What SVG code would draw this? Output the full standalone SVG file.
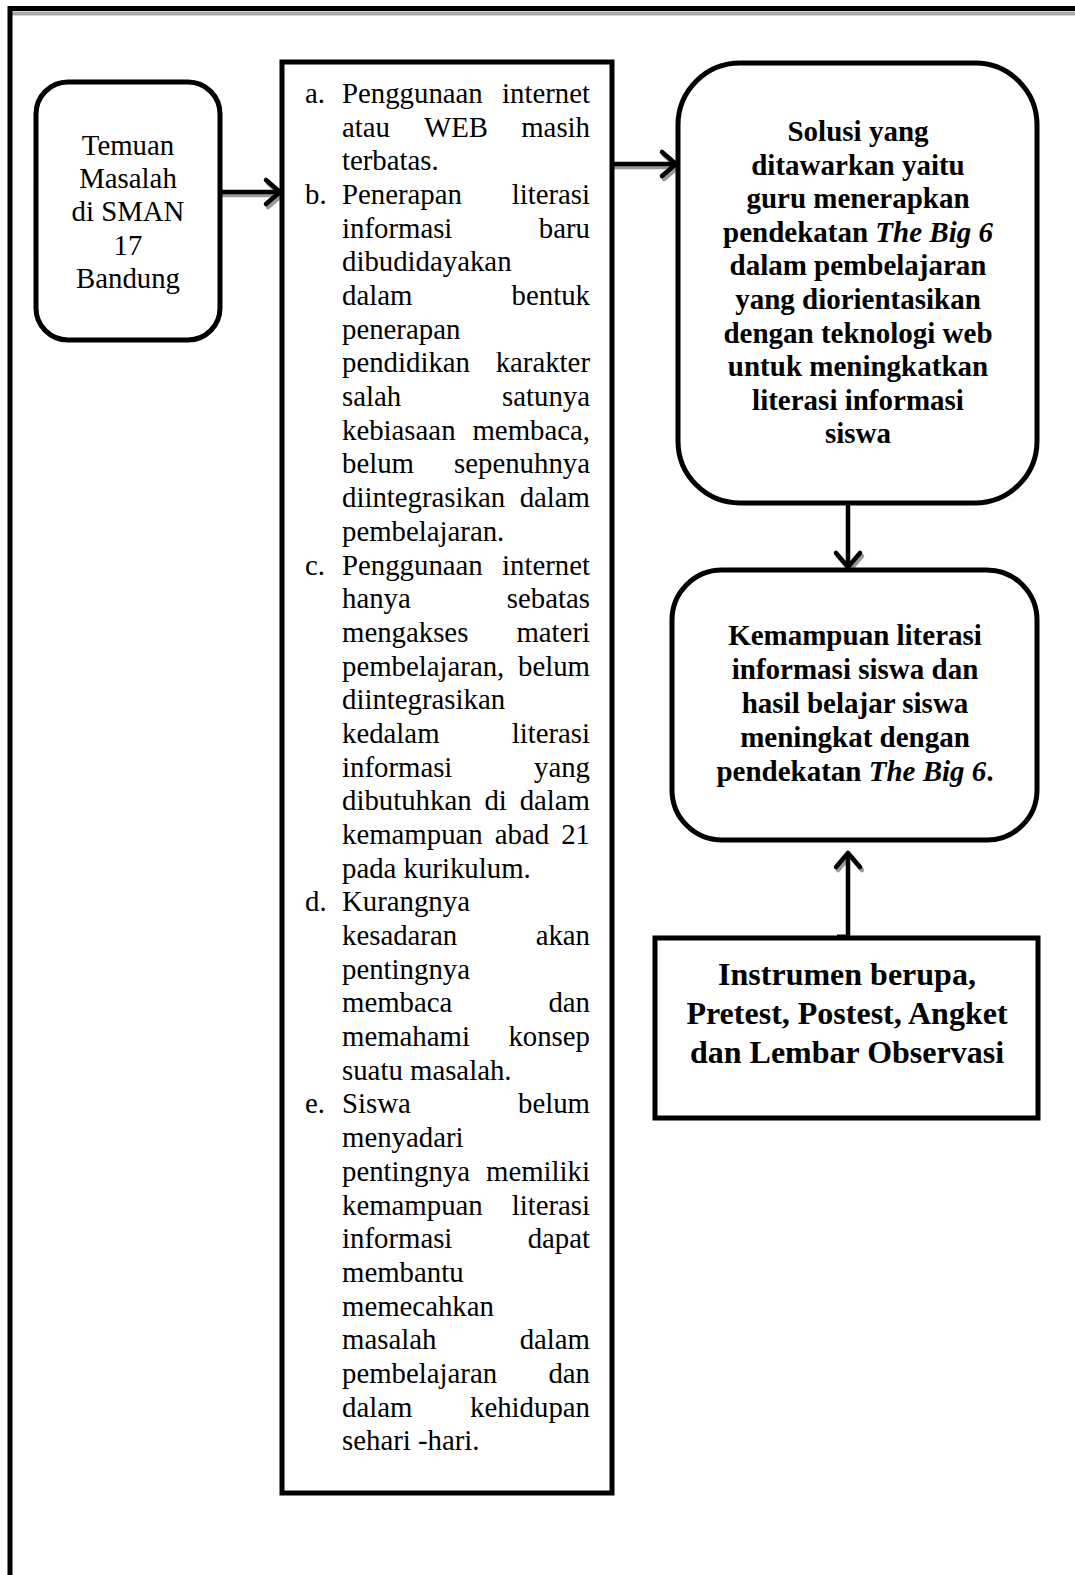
<svg xmlns="http://www.w3.org/2000/svg" width="1075" height="1575" viewBox="0 0 1075 1575">
<style>
.box{fill:#fff;stroke:#000;stroke-width:5}
.t{font-family:"Liberation Serif","Times New Roman",serif;font-size:28.8px;fill:#000}
.c{text-anchor:middle}
.e{text-anchor:end}
.b{font-weight:bold;font-size:29px}
.b3{font-weight:bold;font-size:32px}
.i{font-style:italic}
.ln{stroke:#000;stroke-width:4.5;fill:none;stroke-linecap:round;stroke-linejoin:round}
.sh{stroke:#999;stroke-width:4.5;fill:none;stroke-linecap:round;stroke-linejoin:round}
</style>
<rect width="1075" height="1575" fill="#fff"/>
<g id="frame">
<line x1="12" y1="13.5" x2="1075" y2="13.5" stroke="#aaa" stroke-width="4"/>
<line x1="8" y1="8.5" x2="1075" y2="8.5" stroke="#000" stroke-width="5"/>
<line x1="10" y1="6" x2="10" y2="1575" stroke="#000" stroke-width="5"/>
</g>
<g id="connectors">
<g transform="translate(2,3)">
<line class="sh" x1="221" y1="192" x2="279" y2="192"/><polyline class="sh" points="266,180 280,192 266,204"/>
<line class="sh" x1="613" y1="164" x2="675" y2="164"/><polyline class="sh" points="662,152 676,164 662,176"/>
<polyline class="sh" points="836,553 848,567 860,553"/>
<polyline class="sh" points="836,867 848,853 860,867"/>
</g>
<line class="ln" x1="221" y1="192" x2="279" y2="192"/><polyline class="ln" points="266,180 280,192 266,204"/>
<line class="ln" x1="613" y1="164" x2="675" y2="164"/><polyline class="ln" points="662,152 676,164 662,176"/>
<line class="ln" x1="848" y1="504" x2="848" y2="566"/><polyline class="ln" points="836,553 848,567 860,553"/>
<line class="ln" x1="848" y1="937" x2="848" y2="855"/><polyline class="ln" points="836,867 848,853 860,867"/>
<line x1="837" y1="937" x2="849" y2="937" stroke="#000" stroke-width="5"/>
</g>
<g id="temuan">
<rect class="box" x="36" y="82" width="184" height="258" rx="32"/>
<text class="t c" x="128" y="155">Temuan</text>
<text class="t c" x="128" y="188">Masalah</text>
<text class="t c" x="128" y="221">di SMAN</text>
<text class="t c" x="128" y="255">17</text>
<text class="t c" x="128" y="288">Bandung</text>
</g>
<g id="masalah">
<rect class="box" x="282" y="62" width="330" height="1431"/>
<g class="t">
<text x="305" y="103">a.</text><text x="342" y="103">Penggunaan</text><text class="e" x="590" y="103">internet</text>
<text x="342" y="136.7">atau</text><text x="424" y="136.7">WEB</text><text class="e" x="590" y="136.7">masih</text>
<text x="342" y="170.4">terbatas.</text>
<text x="305" y="204">b.</text><text x="342" y="204">Penerapan</text><text class="e" x="590" y="204">literasi</text>
<text x="342" y="237.7">informasi</text><text class="e" x="590" y="237.7">baru</text>
<text x="342" y="271.4">dibudidayakan</text>
<text x="342" y="305">dalam</text><text class="e" x="590" y="305">bentuk</text>
<text x="342" y="338.7">penerapan</text>
<text x="342" y="372.4">pendidikan</text><text class="e" x="590" y="372.4">karakter</text>
<text x="342" y="406.1">salah</text><text class="e" x="590" y="406.1">satunya</text>
<text x="342" y="439.8">kebiasaan</text><text class="e" x="590" y="439.8">membaca,</text>
<text x="342" y="473.4">belum</text><text class="e" x="590" y="473.4">sepenuhnya</text>
<text x="342" y="507.1">diintegrasikan</text><text class="e" x="590" y="507.1">dalam</text>
<text x="342" y="540.8">pembelajaran.</text>
<text x="305" y="574.5">c.</text><text x="342" y="574.5">Penggunaan</text><text class="e" x="590" y="574.5">internet</text>
<text x="342" y="608.2">hanya</text><text class="e" x="590" y="608.2">sebatas</text>
<text x="342" y="641.9">mengakses</text><text class="e" x="590" y="641.9">materi</text>
<text x="342" y="675.5">pembelajaran,</text><text class="e" x="590" y="675.5">belum</text>
<text x="342" y="709.2">diintegrasikan</text>
<text x="342" y="742.9">kedalam</text><text class="e" x="590" y="742.9">literasi</text>
<text x="342" y="776.6">informasi</text><text class="e" x="590" y="776.6">yang</text>
<text x="342" y="810.3">dibutuhkan</text><text x="484.4" y="810.3">di</text><text class="e" x="590" y="810.3">dalam</text>
<text x="342" y="844">kemampuan</text><text x="494.8" y="844">abad</text><text class="e" x="590" y="844">21</text>
<text x="342" y="877.6">pada kurikulum.</text>
<text x="305" y="911.3">d.</text><text x="342" y="911.3">Kurangnya</text>
<text x="342" y="945">kesadaran</text><text class="e" x="590" y="945">akan</text>
<text x="342" y="978.7">pentingnya</text>
<text x="342" y="1012.4">membaca</text><text class="e" x="590" y="1012.4">dan</text>
<text x="342" y="1046">memahami</text><text class="e" x="590" y="1046">konsep</text>
<text x="342" y="1079.7">suatu masalah.</text>
<text x="305" y="1113.4">e.</text><text x="342" y="1113.4">Siswa</text><text class="e" x="590" y="1113.4">belum</text>
<text x="342" y="1147.1">menyadari</text>
<text x="342" y="1180.8">pentingnya</text><text class="e" x="590" y="1180.8">memiliki</text>
<text x="342" y="1214.5">kemampuan</text><text class="e" x="590" y="1214.5">literasi</text>
<text x="342" y="1248.1">informasi</text><text class="e" x="590" y="1248.1">dapat</text>
<text x="342" y="1281.8">membantu</text>
<text x="342" y="1315.5">memecahkan</text>
<text x="342" y="1349.2">masalah</text><text class="e" x="590" y="1349.2">dalam</text>
<text x="342" y="1382.9">pembelajaran</text><text class="e" x="590" y="1382.9">dan</text>
<text x="342" y="1416.6">dalam</text><text class="e" x="590" y="1416.6">kehidupan</text>
<text x="342" y="1450.2">sehari -hari.</text>
</g>
</g>
<g id="solusi">
<rect class="box" x="678" y="63" width="359" height="440" rx="62"/>
<g class="t b c">
<text x="858" y="141">Solusi yang</text>
<text x="858" y="174.6">ditawarkan yaitu</text>
<text x="858" y="208.2">guru menerapkan</text>
<text x="858" y="241.8">pendekatan <tspan class="i">The Big 6</tspan></text>
<text x="858" y="275.4">dalam pembelajaran</text>
<text x="858" y="309">yang diorientasikan</text>
<text x="858" y="342.6">dengan teknologi web</text>
<text x="858" y="376.2">untuk meningkatkan</text>
<text x="858" y="409.8">literasi informasi</text>
<text x="858" y="443.4">siswa</text>
</g>
</g>
<g id="kemampuan">
<rect class="box" x="672" y="570" width="365" height="270" rx="50"/>
<g class="t b c">
<text x="855" y="645">Kemampuan literasi</text>
<text x="855" y="679">informasi siswa dan</text>
<text x="855" y="713">hasil belajar siswa</text>
<text x="855" y="747">meningkat dengan</text>
<text x="855" y="781">pendekatan <tspan class="i">The Big 6</tspan>.</text>
</g>
</g>
<g id="instrumen">
<rect class="box" x="655" y="938" width="383" height="180"/>
<g class="t b3 c">
<text x="847" y="985">Instrumen berupa,</text>
<text x="847" y="1024">Pretest, Postest, Angket</text>
<text x="847" y="1063">dan Lembar Observasi</text>
</g>
</g>
</svg>
